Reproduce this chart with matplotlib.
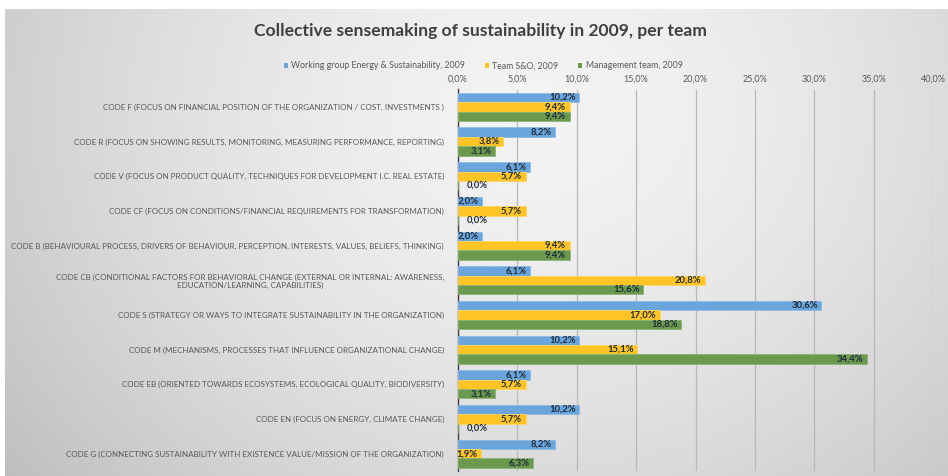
import numpy as np
import matplotlib
matplotlib.use("Agg")
import matplotlib.pyplot as plt
from matplotlib.patches import Patch

categories = [
    "CODE F (FOCUS ON FINANCIAL POSITION OF THE ORGANIZATION / COST, INVESTMENTS )",
    "CODE R (FOCUS ON SHOWING RESULTS, MONITORING, MEASURING PERFORMANCE, REPORTING)",
    "CODE V (FOCUS ON PRODUCT QUALITY, TECHNIQUES FOR DEVELOPMENT I.C. REAL ESTATE)",
    "CODE CF (FOCUS ON CONDITIONS/FINANCIAL REQUIREMENTS FOR TRANSFORMATION)",
    "CODE B (BEHAVIOURAL PROCESS, DRIVERS OF BEHAVIOUR, PERCEPTION, INTERESTS, VALUES, BELIEFS, THINKING)",
    "CODE CB (CONDITIONAL FACTORS FOR BEHAVIORAL CHANGE (EXTERNAL OR INTERNAL: AWARENESS,\nEDUCATION/LEARNING, CAPABILITIES)",
    "CODE S (STRATEGY OR WAYS TO INTEGRATE SUSTAINABILITY IN THE ORGANIZATION)",
    "CODE M (MECHANISMS, PROCESSES THAT INFLUENCE ORGANIZATIONAL CHANGE)",
    "CODE EB (ORIENTED TOWARDS ECOSYSTEMS, ECOLOGICAL QUALITY, BIODIVERSITY)",
    "CODE EN (FOCUS ON ENERGY, CLIMATE CHANGE)",
    "CODE G (CONNECTING SUSTAINABILITY WITH EXISTENCE VALUE/MISSION OF THE ORGANIZATION)",
]
series_names = [
    "Working group Energy & Sustainability, 2009",
    "Team S&O, 2009",
    "Management team, 2009",
]
working_group = [10.2, 8.2, 6.1, 2.0, 2.0, 6.1, 30.6, 10.2, 6.1, 10.2, 8.2]
team_so = [9.4, 3.8, 5.7, 5.7, 9.4, 20.8, 17.0, 15.1, 5.7, 5.7, 1.9]
management = [9.4, 3.1, 0.0, 0.0, 9.4, 15.6, 18.8, 34.4, 3.1, 0.0, 6.3]
x_ticks = [0, 5, 10, 15, 20, 25, 30, 35, 40]

colors = ["#6aa5db", "#ffc425", "#6b9a4f"]
edges = ["#8dbbe6", "#ffd563", "#8ab374"]

plt.rcParams["font.family"] = ["Lato", "DejaVu Sans"]

fig = plt.figure(figsize=(9.48, 4.76), dpi=100)

# background gradient
bg = fig.add_axes([0, 0, 1, 1], zorder=-10)
H, W = 476, 948
yy, xx = np.mgrid[0:H, 0:W]
d = np.sqrt(((xx - 540) / 600.0) ** 2 + ((yy - 110) / 520.0) ** 2)
val = 0.955 - 0.17 * np.clip(d, 0, 1.3) ** 1.6
img = np.dstack([val, val, val])
img[:9, :, :] = 1.0
img[:, :5, :] = 1.0
bg.imshow(np.clip(img, 0, 1), extent=[0, 1, 0, 1], aspect="auto", origin="upper")
bg.axis("off")

ax = fig.add_axes([458 / 948, 1 - 471 / 476, (933 - 458) / 948, (471 - 89.5) / 476])
ax.patch.set_alpha(0)

y = np.arange(len(categories))
h = 0.27
all_series = [working_group, team_so, management]
for k, vals in enumerate(all_series):
    pos = y + (k - 1) * h
    ax.barh(pos, vals, height=h, color=colors[k], edgecolor=edges[k], linewidth=0.6, zorder=3)
    for p, v in zip(pos, vals):
        lab = f"{v:.1f}".replace(".", ",") + "%"
        if v == 0:
            ax.text(0.7, p, lab, ha="left", va="center", fontsize=6.8, fontweight="bold",
                    color="#1f2b3a", zorder=4)
        else:
            ax.text(max(v - 0.3, 1.6), p, lab, ha="right", va="center", fontsize=6.8,
                    fontweight="bold", color="#1f2b3a", zorder=4)

ax.set_ylim(len(categories) - 0.5, -0.5)
ax.set_xlim(0, 40)
ax.xaxis.tick_top()
ax.set_xticks(x_ticks)
ax.set_xticklabels([f"{t:.1f}".replace(".", ",") + "%" for t in x_ticks])
ax.tick_params(axis="x", length=0, pad=4, labelsize=6.5, labelcolor="#595959")
ax.set_yticks(y)
ax.set_yticklabels(categories, fontsize=5.75, color="#595959", multialignment="center")
ax.tick_params(axis="y", length=0, pad=10)
ax.grid(axis="x", color="#b8b8b8", linewidth=0.9, zorder=0)
ax.set_axisbelow(True)
for s in ["top", "right", "bottom"]:
    ax.spines[s].set_visible(False)
ax.spines["left"].set_color("#404040")
ax.spines["left"].set_linewidth(1.0)

fig.text(480 / 948, 1 - 31 / 476, "Collective sensemaking of sustainability in 2009, per team",
         ha="center", va="center", fontsize=12.6, fontweight="bold", color="#404040")

handles = [Patch(facecolor=c, edgecolor="none") for c in colors]
fig.legend(handles, series_names, loc="center", bbox_to_anchor=(483 / 948, 1 - 66 / 476),
           ncol=3, frameon=False, fontsize=6.3, labelcolor="#595959", handlelength=0.5,
           handleheight=0.5, handletextpad=0.4, columnspacing=2.2)

fig.savefig("out.png", dpi=100)
